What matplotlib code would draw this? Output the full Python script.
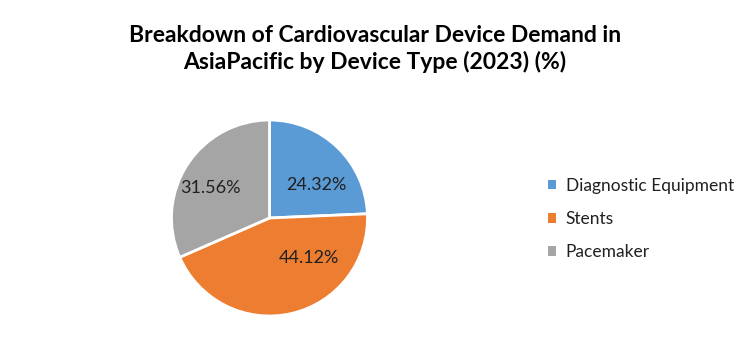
import matplotlib.pyplot as plt
from matplotlib.patches import Patch

plt.rcParams['font.family'] = ['Lato', 'DejaVu Sans']

labels = ['Diagnostic Equipment', 'Stents', 'Pacemaker']
values = [24.32, 44.12, 31.56]
colors = ['#5B9BD5', '#ED7D31', '#A5A5A5']
title = 'Breakdown of Cardiovascular Device Demand in\nAsiaPacific by Device Type (2023) (%)'

# where Excel put the percentage labels (data units, radius = 1)
label_pos = [(0.48, 0.34), (0.40, -0.41), (-0.60, 0.31)]

fig = plt.figure(figsize=(7.5, 3.57), dpi=100)
fig.text(0.5, 0.93, title, ha='center', va='top', fontsize=16.5, fontweight='bold',
         linespacing=1.3)

ax = fig.add_axes([171.5 / 750, 41 / 357, 196 / 750, 196 / 357])
wedges, texts, autotexts = ax.pie(values, colors=colors, startangle=90, counterclock=False,
                                  autopct='%.2f%%', pctdistance=0.6,
                                  wedgeprops=dict(edgecolor='white', linewidth=2),
                                  textprops=dict(fontsize=13, color='#202020'))
for t, p in zip(autotexts, label_pos):
    t.set_position(p)
ax.set_xlim(-1.0, 1.0)
ax.set_ylim(-1.0, 1.0)
ax.set_aspect('equal')

handles = [Patch(facecolor=c, edgecolor='none') for c in colors]
fig.legend(handles, labels, loc='upper left', bbox_to_anchor=(532 / 750, 1 - 162 / 357),
           frameon=False, fontsize=12.5, handlelength=0.5, handleheight=0.5,
           handletextpad=0.55, labelspacing=1.0, labelcolor='#202020')

fig.savefig('out.png', dpi=100, facecolor='white')
